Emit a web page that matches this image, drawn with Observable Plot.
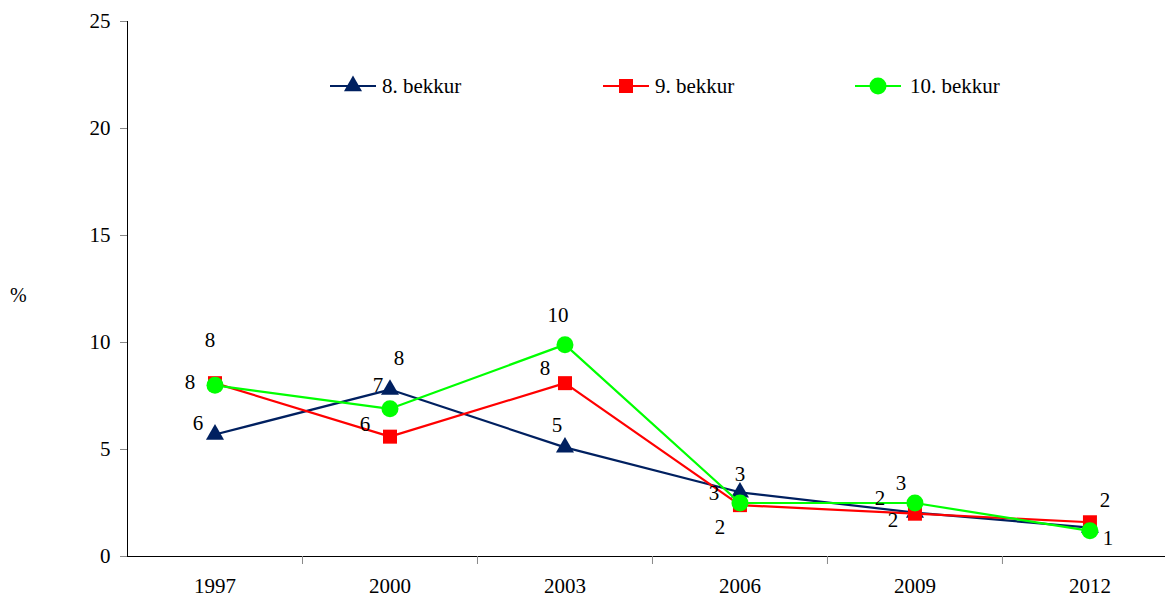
<!DOCTYPE html>
<html>
<head>
<meta charset="utf-8">
<script src="https://cdn.jsdelivr.net/npm/d3@7"></script>
<script src="https://cdn.jsdelivr.net/npm/@observablehq/plot@0.6"></script>
<style>
  html, body { margin: 0; padding: 0; background: #fff; font-family: 'Liberation Serif', serif; }
  #wrap { position: relative; width: 1165px; height: 601px; font-family: 'Liberation Serif', serif; }
  #ylab { position: absolute; left: 10px; top: 284px; font-size: 20px; }
  .leg { position: absolute; top: 72px; display: flex; align-items: center; font-size: 21px; line-height: 28px; }
  .leg svg { display: block; }
</style>
</head>
<body>
<div id="wrap"><div id="ylab">%</div></div>
<script>
const years = [1997, 2000, 2003, 2006, 2009, 2012];
const seriesNames = ["8. bekkur", "9. bekkur", "10. bekkur"];
const bekkur8 = [5.7, 7.8, 5.1, 3.0, 2.05, 1.35];
const bekkur9 = [8.1, 5.6, 8.1, 2.4, 2.0, 1.6];
const bekkur10 = [8.0, 6.9, 9.9, 2.5, 2.5, 1.2];
const yTicks = [0, 5, 10, 15, 20, 25];

// styling / layout
const colors = ["#002060", "#FF0000", "#00FF00"];
const symbols = ["triangle", "square", "circle"];
const radii = [6.7, 7.9, 8.5];
// label offsets (null = label hidden behind markers in the original)
const labelOffsets = [
  [[-17, -11], [9, -31], [-8, -22], [0, -18], [-35, -14], null],
  [[-5, -43], [-25, -12], [-20, -15], [-20, 22], [-22, 7], [15, -22]],
  [[-25, -3], [-12, -24], [-7, -29], [-26, -10], [-14, -20], [18, 7]]
];

const allValues = [bekkur8, bekkur9, bekkur10];
const series = allValues.map((vals, s) => years.map((y, i) => ({year: y, value: vals[i], name: seriesNames[s], idx: i})));
const boundaries = years.slice(0, -1).map(y => y + 1.5);
const xLeft = years[0] - 1.5;
const xRight = years[years.length - 1] + 1.5;

const font = "'Liberation Serif', serif";
const marks = [
  Plot.ruleY([0], {x1: xLeft, x2: xRight, stroke: "#000", strokeWidth: 1}),
  Plot.ruleX([xLeft], {y1: 0, y2: 25, stroke: "#000", strokeWidth: 1}),
  Plot.axisY({ticks: yTicks, tickSize: 7, tickPadding: 10, fontSize: 21, fontFamily: font, label: null, stroke: "#888", fill: "#000"}),
  Plot.axisX({ticks: years, tickSize: 0, tickPadding: 22, tickFormat: d => String(d), fontSize: 21, fontFamily: font, label: null, fill: "#000"}),
  Plot.axisX({ticks: boundaries, tickSize: 8, tickFormat: () => "", label: null, stroke: "#888"})
];
series.forEach((data, s) => {
  marks.push(Plot.line(data, {x: "year", y: "value", stroke: colors[s], strokeWidth: 2.2}));
  marks.push(Plot.dot(data, {x: "year", y: "value", symbol: () => symbols[s], r: radii[s], fill: colors[s], stroke: "none"}));
});
series.forEach((data, s) => {
  data.forEach((d, i) => {
    const off = labelOffsets[s][i];
    if (!off) return;
    marks.push(Plot.text([d], {x: "year", y: "value", text: d => String(Math.round(d.value)), dx: off[0], dy: off[1], fontSize: 21, fontFamily: font, fill: "#000"}));
  });
});

const chart = Plot.plot({
  width: 1165,
  height: 601,
  marginTop: 21,
  marginBottom: 45,
  marginLeft: 127,
  marginRight: 0,
  style: {fontFamily: font, background: "#fff", color: "#000"},
  x: {type: "linear", domain: [xLeft, xRight], range: [127, 127 + 18 * 58.33]},
  y: {domain: [0, 25], range: [556, 21]},
  marks
});
chart.querySelectorAll("text, g").forEach(t => { t.setAttribute("font-family", "Liberation Serif"); t.style.fontFamily = font; });
const wrap = document.getElementById("wrap");
wrap.insertBefore(chart, wrap.firstChild);

// legend
const legLefts = [330, 603, 855];
seriesNames.forEach((name, s) => {
  const div = document.createElement("div");
  div.className = "leg";
  div.style.left = legLefts[s] + "px";
  const ns = "http://www.w3.org/2000/svg";
  const svg = document.createElementNS(ns, "svg");
  svg.setAttribute("width", 46); svg.setAttribute("height", 28);
  const line = document.createElementNS(ns, "line");
  line.setAttribute("x1", 0); line.setAttribute("x2", 46); line.setAttribute("y1", 14); line.setAttribute("y2", 14);
  line.setAttribute("stroke", colors[s]); line.setAttribute("stroke-width", 2.2);
  svg.appendChild(line);
  const path = document.createElementNS(ns, "path");
  const sym = {triangle: d3.symbolTriangle, square: d3.symbolSquare, circle: d3.symbolCircle}[symbols[s]];
  path.setAttribute("d", d3.symbol(sym, radii[s] * radii[s] * Math.PI)());
  path.setAttribute("transform", "translate(23,14)");
  path.setAttribute("fill", colors[s]);
  svg.appendChild(path);
  div.appendChild(svg);
  const span = document.createElement("span");
  span.textContent = name;
  span.style.marginLeft = (s === 2 ? 9 : 6) + "px";
  div.appendChild(span);
  wrap.appendChild(div);
});
chart.style.position = "absolute"; chart.style.left = "0"; chart.style.top = "0";
</script>
</body>
</html>
